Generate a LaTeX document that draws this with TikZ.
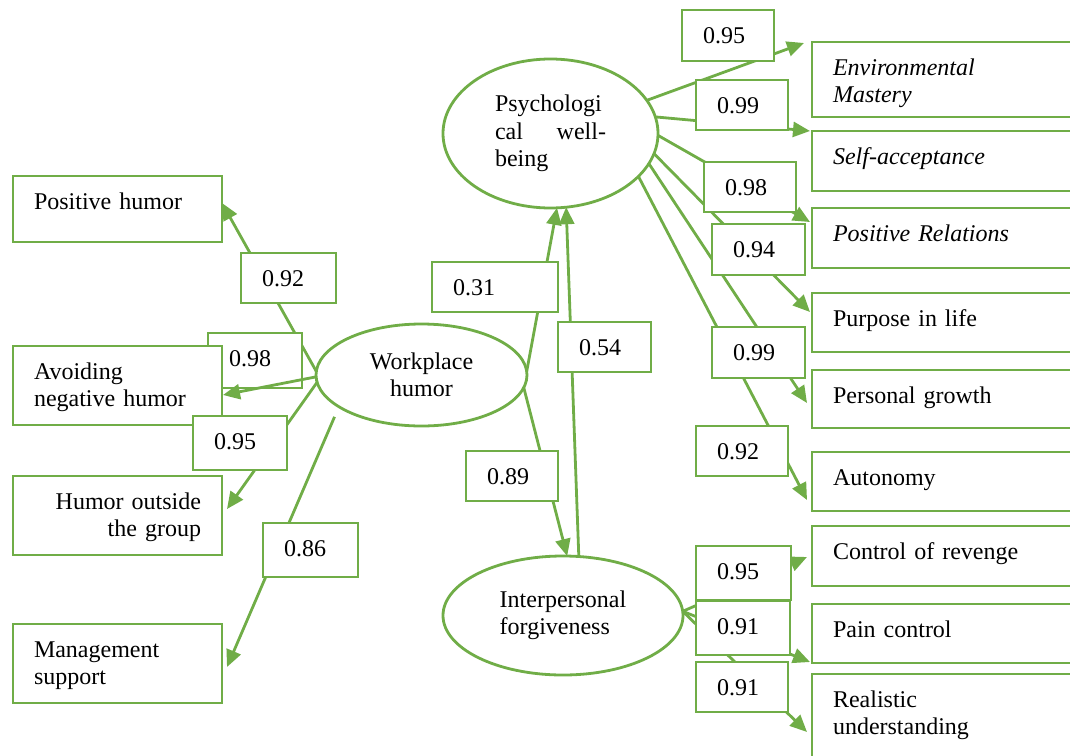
\documentclass[tikz,border=0pt]{standalone}
\usepackage{fontspec}
\setmainfont{Liberation Serif}
\usetikzlibrary{shapes.geometric,arrows.meta,calc}
\definecolor{grn}{HTML}{70AD47}
\pgfdeclarelayer{lines}
\pgfdeclarelayer{low}
\pgfdeclarelayer{lines2}
\pgfsetlayers{lines,low,lines2,main}
\begin{document}
\begin{tikzpicture}[x=1pt,y=-1pt,
  every node/.style={font=\fontsize{24}{27.5}\selectfont},
  itl/.style={font=\fontsize{24}{27.5}\selectfont\itshape},
  cbox/.style={draw=grn, line width=2.8pt, fill=white, anchor=north west, outer sep=0pt,
    inner xsep=21pt, inner ysep=0pt, text height=33pt, align=left},
  ell/.style={draw=grn, line width=2.8pt, fill=white, ellipse, inner sep=0pt, outer sep=0pt},
  conn/.style={draw=grn, line width=2.8pt},
  arr/.style={conn, -{Triangle[length=17pt,width=15pt]}}
]
\useasboundingbox (0,0) rectangle (1070,755);

% latent variables
\node[ell, minimum width=215pt, minimum height=149pt, text width=111pt, align=left] (psych) at (550.5,133.5) {Psychologi\\cal\hfill well-\\being};
\node[ell, minimum width=211pt, minimum height=102pt, align=center] (work) at (421.5,375) {Workplace\\humor};
\node[ell, minimum width=240pt, minimum height=119pt, align=left] (forg) at (563,615.5) {Interpersonal\\forgiveness};

% left indicator boxes
\node[cbox, text width=167pt, text depth=33pt] (poshum) at (13,176) {Positive humor};
\node[cbox, text width=167pt, text depth=46pt] (avoid) at (13,346) {Avoiding\\negative humor};
\node[cbox, text width=167pt, text depth=46pt, align=right] (outside) at (13,476) {Humor outside\\the group};
\node[cbox, text width=167pt, text depth=46pt] (mgmt) at (13,624) {Management\\support};

% right indicator boxes
\node[cbox, itl, text width=226pt, text depth=42pt] (env) at (812,42) {Environmental\\Mastery};
\node[cbox, itl, text width=226pt, text depth=27pt] (selfacc) at (812,131) {Self-acceptance};
\node[cbox, itl, text width=226pt, text depth=27pt] (posrel) at (812,208) {Positive Relations};
\node[cbox, text width=226pt, text depth=26pt] (purpose) at (812,293) {Purpose in life};
\node[cbox, text width=226pt, text depth=25pt] (growth) at (812,370) {Personal growth};
\node[cbox, text width=226pt, text depth=26pt] (auton) at (812,452) {Autonomy};
\node[cbox, text width=226pt, text depth=27pt] (revenge) at (812,526) {Control of revenge};
\node[cbox, text width=226pt, text depth=26pt] (pain) at (812,604) {Pain control};
\node[cbox, text width=226pt, text depth=63pt] (real) at (812,674) {Realistic\\understanding};

% coefficient boxes
\node[cbox, text width=53pt, text depth=17pt] (c092) at (241,253) {0.92};
\begin{pgfonlayer}{low}
\node[cbox, text width=52pt, text depth=22pt] (c098) at (208,333) {0.98};
\end{pgfonlayer}
\node[cbox, text width=52pt, text depth=21pt] (c095) at (193,416) {0.95};
\node[cbox, text width=53pt, text depth=21pt] (c086) at (263,523) {0.86};
\node[cbox, text width=84pt, text depth=17pt] (c031) at (432,262) {0.31};
\node[cbox, text width=51pt, text depth=17pt] (c054) at (558,322) {0.54};
\node[cbox, text width=50pt, text depth=17pt] (c089) at (466,451) {0.89};
\node[cbox, text width=50pt, text depth=18pt] (r095) at (682,10) {0.95};
\node[cbox, text width=50pt, text depth=17pt] (r099) at (696,80) {0.99};
\node[cbox, text width=50pt, text depth=17pt] (r098) at (704,162) {0.98};
\node[cbox, text width=51pt, text depth=18pt] (r094) at (712,224) {0.94};
\node[cbox, text width=51pt, text depth=18pt] (r099b) at (712,327) {0.99};
\node[cbox, text width=50pt, text depth=17pt] (r092) at (696,426) {0.92};
\node[cbox, text width=53pt, text depth=21pt] (f095) at (696,546) {0.95};
\node[cbox, text width=52pt, text depth=21pt] (f091) at (696,601) {0.91};
\node[cbox, text width=50pt, text depth=17pt] (f091b) at (696,662) {0.91};

% connectors
\begin{pgfonlayer}{lines}
\draw[arr] (work.178) -- ($(poshum.east)+(0,-6)$);
\draw[arr] (work.184) -- ($(outside.east)+(5,-6.5)$);
\draw[arr, shorten <=11pt] (work.201) -- ($(mgmt.east)+(5,3.5)$);
\draw[arr] (work.2) -- (psych.-85);
\draw[arr] (work.-7) -- (forg.86);
\draw[arr] (forg.75) -- (psych.-78);
\draw[arr] (psych.19) -- ($(env.north west)+(-8,1)$);
\draw[arr] (psych.9) -- ($(selfacc.north west)+(-2,0)$);
\draw[arr] (psych.-1) -- ($(posrel.north west)+(-2,14)$);
\draw[arr] (psych.-11) -- ($(purpose.north west)+(-2,19)$);
\draw[arr] (psych.-17) -- ($(growth.north west)+(-5,33)$);
\draw[arr] (psych.-26) -- ($(auton.north west)+(-5,48)$);
\draw[arr] (forg.2) -- ($(revenge.north west)+(-5,31)$);
\draw[arr] (forg.2) -- ($(pain.north west)+(-2,58)$);
\draw[arr] (forg.2) -- ($(real.north west)+(-5,58)$);
\end{pgfonlayer}
\begin{pgfonlayer}{lines2}
\draw[arr] (work.181) -- ($(avoid.east)+(1,9.5)$);
\end{pgfonlayer}
\end{tikzpicture}
\end{document}
